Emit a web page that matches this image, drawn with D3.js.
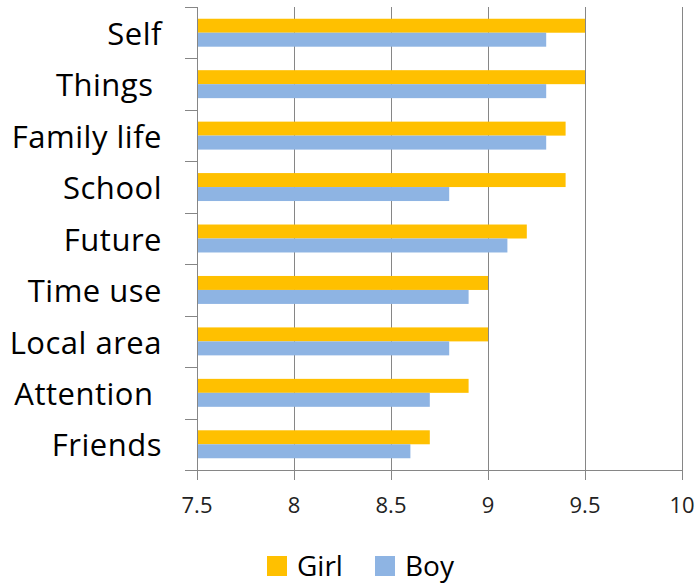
<!DOCTYPE html>
<html>
<head>
<meta charset="utf-8">
<script src="https://cdn.jsdelivr.net/npm/d3@7"></script>
<style>
  body { margin: 0; background: #fff; }
  svg { display: block; font-family: "Open Sans", sans-serif; }
  .cat { white-space: pre; }
</style>
</head>
<body>
<div id="chart"></div>
<script>
// data
const categories = ["Self", "Things ", "Family life", "School", "Future", "Time use", "Local area", "Attention ", "Friends"];
const seriesNames = ["Girl", "Boy"];
const girlValues = [9.5, 9.5, 9.4, 9.4, 9.2, 9.0, 9.0, 8.9, 8.7];
const boyValues = [9.3, 9.3, 9.3, 8.8, 9.1, 8.9, 8.8, 8.7, 8.6];
const xTicks = [7.5, 8, 8.5, 9, 9.5, 10];
const colors = ["#FFC000", "#8EB4E3"];

const w = 698, h = 584;
const plotLeft = 197, plotRight = 682, plotTop = 7, plotBottom = 470;
const gridColor = "#868686";

const svg = d3.select("#chart").append("svg")
  .attr("width", w)
  .attr("height", h);

const x = d3.scaleLinear().domain([7.5, 10]).range([plotLeft, plotRight]);
const y0 = d3.scaleBand().domain(categories).range([plotTop, plotBottom]).paddingInner(0);
const y1 = d3.scaleBand().domain(seriesNames).range([0, y0.bandwidth()]).paddingOuter(0.84);

const rows = categories.map((c, i) => ({ cat: c, vals: [girlValues[i], boyValues[i]] }));

//gridlines
svg.append("g")
  .selectAll("line")
  .data(xTicks.slice(1))
  .enter()
  .append("line")
  .attr("x1", d => Math.round(x(d)) + 0.5).attr("x2", d => Math.round(x(d)) + 0.5)
  .attr("y1", plotTop).attr("y2", plotBottom)
  .attr("stroke", gridColor)
  .attr("stroke-width", 1);

//bars
const groups = svg.append("g")
  .selectAll("g")
  .data(rows)
  .enter()
  .append("g")
  .attr("transform", d => "translate(0," + y0(d.cat) + ")");

groups.selectAll("rect")
  .data(d => d.vals.map((v, j) => ({ name: seriesNames[j], value: v, j: j })))
  .enter()
  .append("rect")
  .attr("x", x(7.5))
  .attr("y", d => y1(d.name))
  .attr("width", d => x(d.value) - x(7.5))
  .attr("height", y1.bandwidth())
  .attr("fill", d => colors[d.j]);

//left axis
const yTicks = categories.map(c => y0(c)).concat([plotBottom]);
svg.append("line")
  .attr("x1", plotLeft + 0.5).attr("x2", plotLeft + 0.5)
  .attr("y1", plotTop).attr("y2", plotBottom)
  .attr("stroke", gridColor);
svg.append("g")
  .selectAll("line")
  .data(yTicks)
  .enter()
  .append("line")
  .attr("x1", 185).attr("x2", plotLeft)
  .attr("y1", d => Math.round(d) + 0.5).attr("y2", d => Math.round(d) + 0.5)
  .attr("stroke", gridColor);

svg.append("g")
  .selectAll("text")
  .data(categories)
  .enter()
  .append("text")
  .attr("class", "cat")
  .attr("x", 162)
  .attr("y", d => y0(d) + y0.bandwidth() / 2 + 1)
  .attr("dy", "0.36em")
  .attr("text-anchor", "end")
  .attr("font-size", 31)
  .attr("letter-spacing", 0.5)
  .attr("fill", "#000")
  .text(d => d);

//bottom axis
svg.append("line")
  .attr("x1", plotLeft).attr("x2", plotRight)
  .attr("y1", plotBottom + 0.5).attr("y2", plotBottom + 0.5)
  .attr("stroke", gridColor);
svg.append("g")
  .selectAll("line")
  .data(xTicks)
  .enter()
  .append("line")
  .attr("x1", d => Math.round(x(d)) + 0.5).attr("x2", d => Math.round(x(d)) + 0.5)
  .attr("y1", plotBottom).attr("y2", plotBottom + 10)
  .attr("stroke", gridColor);
svg.append("g")
  .selectAll("text")
  .data(xTicks)
  .enter()
  .append("text")
  .attr("x", d => x(d))
  .attr("y", 513)
  .attr("text-anchor", "middle")
  .attr("font-size", 22)
  .attr("fill", "#222")
  .text(d => d);

//legend
const legendX = [267, 375];
const legend = svg.append("g")
  .selectAll("g")
  .data(seriesNames)
  .enter()
  .append("g")
  .attr("transform", (d, i) => "translate(" + legendX[i] + ",556)");
legend.append("rect")
  .attr("width", 20).attr("height", 20)
  .attr("fill", (d, i) => colors[i]);
legend.append("text")
  .attr("x", 30)
  .attr("y", 20)
  .attr("font-size", 28)
  .attr("fill", "#000")
  .text(d => d);
</script>
</body>
</html>
